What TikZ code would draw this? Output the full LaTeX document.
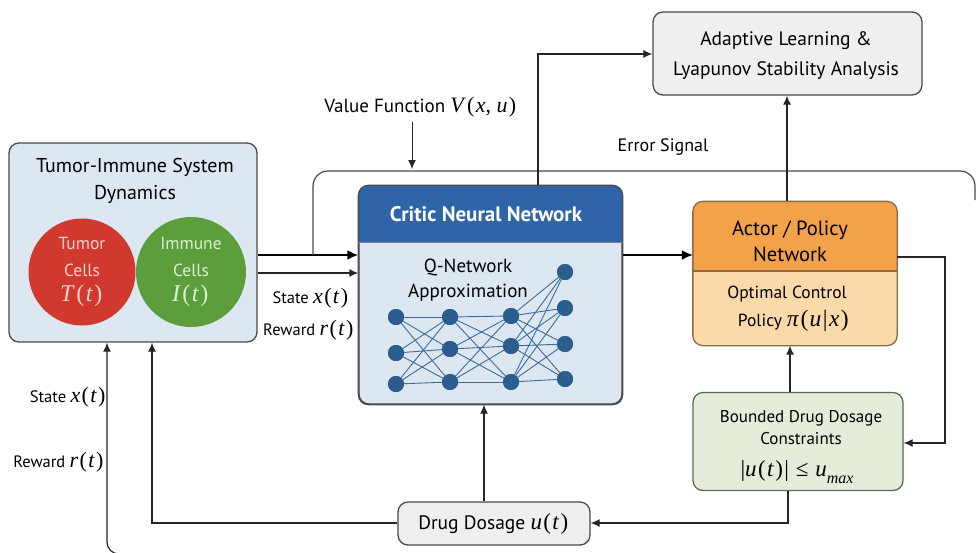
\documentclass[tikz,border=0pt]{standalone}
\usepackage{fontspec}
\setmainfont{PT Sans}
\newfontfamily\serifm{Liberation Serif}
\usetikzlibrary{arrows.meta,calc}
\definecolor{edgegray}{HTML}{4A4A4A}
\definecolor{panelblue}{HTML}{DCE7F2}
\definecolor{headblue}{HTML}{2F64A8}
\definecolor{nodeblue}{HTML}{2C5D8F}
\definecolor{linkblue}{HTML}{3E6C98}
\definecolor{actortop}{HTML}{F4A24A}
\definecolor{actorbot}{HTML}{FCD9A9}
\definecolor{actoredge}{HTML}{8A6A48}
\definecolor{boundfill}{HTML}{E3EDD9}
\definecolor{boundedge}{HTML}{5C6B57}
\definecolor{grayfill}{HTML}{EFEFEF}
\definecolor{tumorred}{HTML}{D1392F}
\definecolor{immunegreen}{HTML}{5C9E3B}
\definecolor{tumortext}{HTML}{F8D3CD}
\definecolor{immunetext}{HTML}{DDF0CF}
% formula pieces set in a serif face: size, then content
\newcommand{\mfs}[2]{{\fontsize{#1}{#1}\selectfont\serifm #2}}
\newcommand{\vi}[1]{{\itshape #1\/}}
\newcommand{\pl}[1]{\kern0.06em#1\kern0.06em}
\begin{document}
\begin{tikzpicture}[x=1pt,y=-1pt,
  font=\fontsize{16.5}{19}\selectfont,
  box/.style={draw=edgegray,line width=1.3pt,rounded corners=10pt,inner sep=0pt,align=center},
  cell/.style={circle,inner sep=0pt,minimum size=107pt,align=center,font=\fontsize{17.5}{26.5}\selectfont},
  neuron/.style={circle,fill=nodeblue,inner sep=0pt,minimum size=16pt},
  link/.style={draw=linkblue,line width=0.9pt},
  flow/.style={draw=black!85,line width=1.2pt,-{Latex[length=9pt,width=8pt]}},
  bigflow/.style={draw=black,line width=2.2pt,-{Latex[length=11pt,width=10pt]}},
  lbl/.style={inner sep=1pt}]
\useasboundingbox (0,0) rectangle (976,552);
\fill[white] (0,0) rectangle (976,552);

% ---------------- tumor-immune system panel ----------------
\node[box,fill=panelblue,minimum width=248pt,minimum height=199pt] (tumor) at (133,242.5) {};
\node[align=center,font=\fontsize{20}{27}\selectfont] (tumortitle) at (135,180.5) {Tumor-Immune System\\Dynamics};
\node[cell,fill=tumorred,text=tumortext] (tcell) at (82,272) {Tumor\\Cells\\[-1pt]\mfs{24}{\vi{T}\pl{(}\vi{t}\pl{)}}};
\node[cell,fill=immunegreen,text=immunetext,minimum size=110pt] (icell) at (191,272) {Immune\\Cells\\[-1pt]\mfs{24}{\vi{I}\pl{(}\vi{t}\pl{)}}};

% ---------------- critic network ----------------
\node[box,fill=panelblue,minimum width=263pt,minimum height=218pt] (critic) at (490.5,295) {};
\fill[headblue] (critic.west |- 0,242) [rounded corners=10pt] -- (critic.north west) -- (critic.north east) [sharp corners] -- (critic.east |- 0,242) -- cycle;
\draw[edgegray,line width=1.3pt,rounded corners=10pt] (critic.north west) rectangle (critic.south east);
\draw[edgegray!70,line width=0.8pt] (critic.west |- 0,242) -- (critic.east |- 0,242);
\node[text=white,font=\fontsize{21}{24}\selectfont\bfseries] (critictitle) at (486,214) {Critic Neural Network};
\node[align=center,font=\fontsize{19}{25}\selectfont] (qnet) at (468,280) {Q-Network\\Approximation};

% neurons, layer by layer
\foreach \i/\y in {1/317,2/353,3/384} \node[neuron] (a\i) at (396,\y) {};
\foreach \i/\y in {1/317,2/349,3/382} \node[neuron] (b\i) at (450,\y) {};
\foreach \i/\y in {1/316,2/346,3/382} \node[neuron] (c\i) at (511,\y) {};
\foreach \i/\y in {1/272,2/308,3/344,4/379} \node[neuron] (d\i) at (565,\y) {};
\foreach \p in {1,2,3}{
  \foreach \q in {1,2,3}{
    \path[link] (a\p) -- (b\q);
    \path[link] (b\p) -- (c\q);
  }
  \foreach \q in {1,2,3,4}{
    \path[link] (c\p) -- (d\q);
  }
}
% redraw neurons over the links
\foreach \n in {a1,a2,a3,b1,b2,b3,c1,c2,c3,d1,d2,d3,d4} \fill[nodeblue] (\n) circle (8pt);

% ---------------- actor / policy network ----------------
\node[box,minimum width=203pt,minimum height=143pt] (actor) at (795,273.5) {};
\fill[actortop] (actor.west |- 0,271) [rounded corners=10pt] -- (actor.north west) -- (actor.north east) [sharp corners] -- (actor.east |- 0,271) -- cycle;
\fill[actorbot] (actor.west |- 0,271) [rounded corners=10pt] -- (actor.south west) -- (actor.south east) [sharp corners] -- (actor.east |- 0,271) -- cycle;
\draw[actoredge,line width=1.3pt,rounded corners=10pt] (actor.north west) rectangle (actor.south east);
\draw[actoredge,line width=1.1pt] (actor.west |- 0,271) -- (actor.east |- 0,271);
\node[align=center,font=\fontsize{20.5}{26}\selectfont] (actortitle) at (790,241) {Actor / Policy\\Network};
\node[align=center,font=\fontsize{17.5}{27.5}\selectfont] (policy) at (787,309) {Optimal Control\\\hspace*{14pt}Policy \mfs{23.5}{\vi{π}\pl{(}\vi{u}\pl{|}\vi{x}\pl{)}}};

% ---------------- adaptive learning ----------------
\node[box,fill=grayfill,minimum width=269pt,minimum height=83pt] (adapt) at (787.5,53.5) {};
\node[align=center,font=\fontsize{19.5}{30}\selectfont] (adapttext) at (786,55.5) {Adaptive Learning \&\\Lyapunov Stability Analysis};

% ---------------- bounded dosage ----------------
\node[box,draw=boundedge,fill=boundfill,minimum width=210pt,minimum height=98pt] (bound) at (798,441.5) {};
\node[align=center,font=\fontsize{17}{22}\selectfont] (boundtext) at (801,427.5) {Bounded Drug Dosage\\Constraints};
\node (boundmath) at (797,472) {\mfs{23}{|\vi{u}\pl{(}\vi{t}\pl{)}|\kern0.3em≤\kern0.3em\vi{u}\raisebox{-0.28em}{\fontsize{16}{16}\selectfont\itshape max}}};

% ---------------- drug dosage ----------------
\node[box,fill=grayfill,minimum width=192pt,minimum height=43pt,font=\fontsize{19.5}{22}\selectfont] (drug) at (494,523.5) {Drug Dosage \mfs{23}{\vi{u}\pl{(}\vi{t}\pl{)}}};

% ---------------- connectors ----------------
\coordinate (split) at (313,255);
\draw[bigflow] (tumor.east |- split) -- (critic.west |- split);
\draw[flow,line width=1.4pt] (tumor.east |- 0,273) -- (critic.west |- 0,273);
\coordinate (errend) at (975,200);
\draw[edgegray,line width=1.2pt,rounded corners=15pt] (split) -- (313,171) -- (975,171) -- (errend);
\coordinate (valtop) at (412,122);
\draw[flow,line width=1pt] (valtop) -- (412,169);
\draw[bigflow,line width=1.8pt] (critic.east |- 0,255) -- (actor.west |- 0,255);
\draw[flow] (critic.north -| 538,0) -- (538,54) -- (adapt.west |- 0,54);
\draw[flow] (actor.north -| 787,0) -- (adapt.south -| 787,0);
\draw[flow] (actor.east |- 0,257) -- (945,257) -- (945,443) -- (bound.east |- 0,443);
\draw[flow] (bound.north -| 790,0) -- (actor.south -| 790,0);
\draw[flow] (bound.south -| 788,0) -- (788,523) -- (drug.east |- 0,523);
\draw[flow] (drug.north -| 484,0) -- (critic.south -| 484,0);
\draw[flow] (drug.west |- 0,523) -- (152,523) -- (tumor.south -| 152,0);
\coordinate (loopend) at (976,554);
\draw[flow,rounded corners=12pt] (loopend) -- (107,554) -- (tumor.south -| 107,0);

% ---------------- labels ----------------
\node[lbl,font=\fontsize{19}{22}\selectfont] (valuelbl) at (421,107) {Value Function \mfs{22}{\vi{V}\pl{(}\vi{x}, \vi{u}\pl{)}}};
\node[lbl,font=\fontsize{18}{22}\selectfont] (errlbl) at (663,147) {Error Signal};
\node[lbl] (statemid) at (311,298) {State \mfs{22}{\vi{x}\pl{(}\vi{t}\pl{)}}};
\node[lbl] (rewardmid) at (309,330) {Reward \mfs{22}{\vi{r}\pl{(}\vi{t}\pl{)}}};
\node[lbl,anchor=east] (stateleft) at (108,397) {State \mfs{22}{\vi{x}\pl{(}\vi{t}\pl{)}}};
\node[lbl,anchor=east] (rewardleft) at (106,462) {Reward \mfs{22}{\vi{r}\pl{(}\vi{t}\pl{)}}};
\end{tikzpicture}
\end{document}
